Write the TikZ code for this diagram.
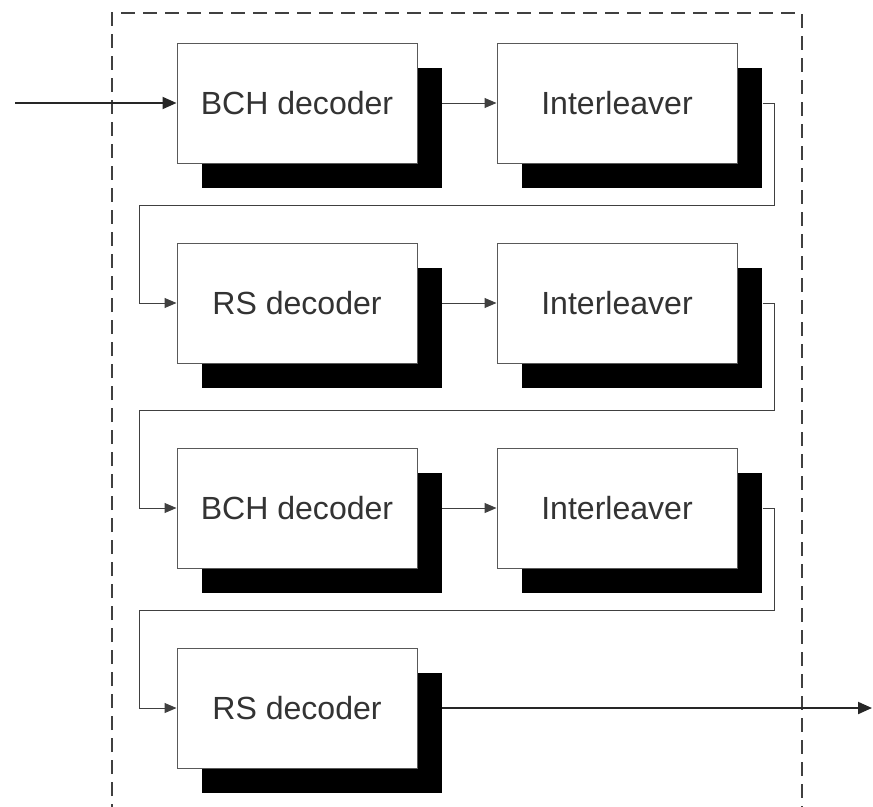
\documentclass[tikz,border=0pt]{standalone}
\usepackage{fontspec}
\setmainfont{Liberation Sans}
\usetikzlibrary{arrows.meta,shadows}

\tikzset{
  block/.style={draw=black!65, line width=0.7pt, fill=white,
    minimum width=6cm, minimum height=3cm, text=black!80,
    font=\fontsize{22.8}{27}\selectfont,
    drop shadow={shadow xshift=0.625cm, shadow yshift=-0.625cm, fill=black, opacity=1}},
  link/.style={draw=black!75, line width=0.7pt, -{Triangle[length=0.3cm,width=0.25cm]}},
  iolink/.style={draw=black!85, line width=1.4pt, -{Triangle[length=0.35cm,width=0.3cm]}},
  frame/.style={draw=black!75, line width=1.4pt, dash pattern=on 0.35cm off 0.2cm}
}

\begin{document}
\begin{tikzpicture}
\useasboundingbox (0,0) rectangle (21.825,-20.15);
\draw[frame] (2.8,-21) -- (2.8,-0.325) -- (20.05,-0.325) -- (20.05,-21);

% decoder chain
\node[block] (bch1) at (7.425,-2.575) {BCH decoder};
\node[block] (il1) at (15.425,-2.575) {Interleaver};
\node[block] (rs1) at (7.425,-7.575) {RS decoder};
\node[block] (il2) at (15.425,-7.575) {Interleaver};
\node[block] (bch2) at (7.425,-12.7) {BCH decoder};
\node[block] (il3) at (15.425,-12.7) {Interleaver};
\node[block] (rs2) at (7.425,-17.7) {RS decoder};

\coordinate (in) at (0.375,-2.575);
\coordinate (out) at (21.8,-17.7);

\draw[iolink] (in) -- (bch1.west);
\draw[link] ([xshift=0.625cm]bch1.east) -- (il1.west);
\draw[link] ([xshift=0.625cm]il1.east) -- ++(0.3,0)
      |- ([xshift=-0.925cm,yshift=2.45cm]rs1.west) |- (rs1.west);
\draw[link] ([xshift=0.625cm]rs1.east) -- (il2.west);
\draw[link] ([xshift=0.625cm]il2.east) -- ++(0.3,0)
      |- ([xshift=-0.925cm,yshift=2.45cm]bch2.west) |- (bch2.west);
\draw[link] ([xshift=0.625cm]bch2.east) -- (il3.west);
\draw[link] ([xshift=0.625cm]il3.east) -- ++(0.3,0)
      |- ([xshift=-0.925cm,yshift=2.45cm]rs2.west) |- (rs2.west);
\draw[iolink] ([xshift=0.625cm]rs2.east) -- (out);
\end{tikzpicture}
\end{document}
